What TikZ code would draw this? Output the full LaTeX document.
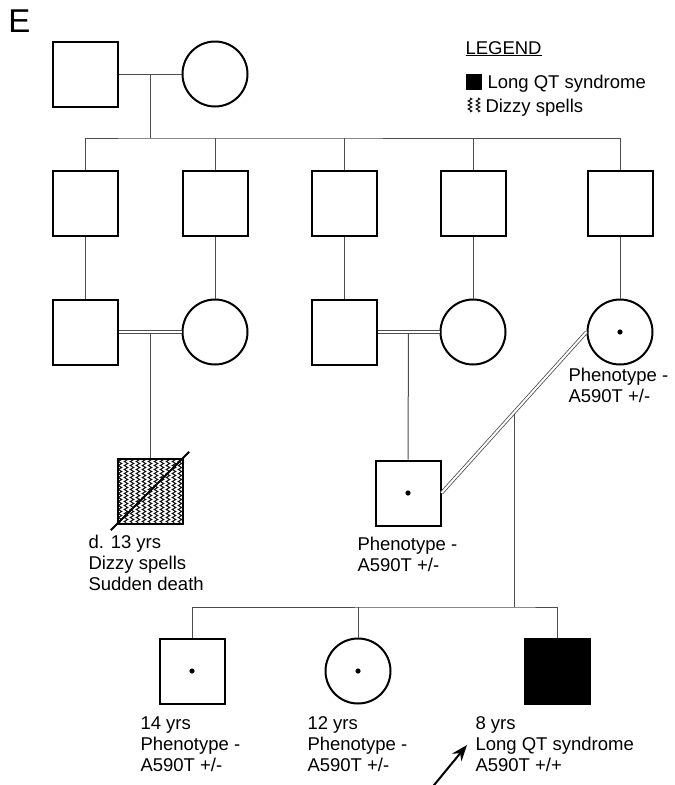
\documentclass[tikz,border=0pt]{standalone}
\usepackage{fontspec}
\setmainfont{Liberation Sans}
\usetikzlibrary{calc,arrows.meta,decorations.pathmorphing}

\begin{document}
\begin{tikzpicture}[x=1pt,y=-1pt,line width=1pt,
	font=\fontsize{18.5}{21}\selectfont,
	male/.style={draw,line width=2pt,minimum size=65pt,inner sep=0pt},
	female/.style={draw,circle,line width=2pt,minimum size=65pt,inner sep=0pt},
	link/.style={draw=black!70,line width=1pt},
	mate/.style={draw=black!70,double=white,double distance=2pt,line width=0.8pt},
	zig/.style={decorate,decoration={zigzag,segment length=4pt,amplitude=1.8pt}},
	dizzy/.style={path picture={\foreach \dx in {-30,-24,...,30}
		\draw[black,line width=0.9pt,zig] ([xshift=\dx pt]path picture bounding box.north) -- ([xshift=\dx pt]path picture bounding box.south);}},
	info/.style={anchor=north west,inner sep=0pt,align=left}]
	\useasboundingbox (0,0) rectangle (675,785);
	\node[anchor=north west,inner sep=0pt,font=\fontsize{33}{36}\selectfont] (panel) at (8,9) {E};
	% generation I
	\node[male] (g1m) at (85,74) {};
	\node[female] (g1f) at (215,74) {};
	% generation II
	\node[male] (g2a) at (85,203) {};
	\node[male] (g2b) at (215,203) {};
	\node[male] (g2c) at (344,203) {};
	\node[male] (g2d) at (473,203) {};
	\node[male] (g2e) at (620,203) {};
	% generation III
	\node[male] (g3a) at (85,332) {};
	\node[female] (g3b) at (215,332) {};
	\node[male] (g3c) at (344,332) {};
	\node[female] (g3d) at (473,332) {};
	\node[female] (g3e) at (620,332) {};
	% generation IV
	\node[male,dizzy] (g4a) at (150,491) {};
	\node[male] (g4b) at (408,493) {};
	% generation V
	\node[male] (g5a) at (192,671) {};
	\node[female] (g5b) at (358,671) {};
	\node[male,fill=black] (g5c) at (557,671) {};
	\fill (g3e.center) circle (2.6);
	\fill (g4b.center) circle (2.6);
	\fill (g5a.center) circle (2.6);
	\fill (g5b.center) circle (2.6);
	\draw[line width=1.8pt,shorten <=-8pt,shorten >=-8pt] (g4a.south west) -- (g4a.north east);
	\coordinate (m1) at ($(g1m.east)!0.5!(g1f.west)$);
	\coordinate (s1) at (150,138);
	\coordinate (m3a) at ($(g3a.east)!0.5!(g3b.west)$);
	\coordinate (m3b) at ($(g3c.east)!0.5!(g3d.west)$);
	\coordinate (m4) at ($(g4b.east)!0.5!(g3e.west)$);
	\coordinate (s5) at (514,607);
	\draw[link] (g1m.east) -- (g1f.west);
	\draw[link] (m1) -- (s1);
	\draw[link] (g2a.north) |- (s1) -| (g2e.north);
	\foreach \n in {g2b,g2c,g2d} \draw[link] (\n.north) -- (\n.north |- s1);
	\foreach \a/\b in {g2a/g3a,g2b/g3b,g2c/g3c,g2d/g3d,g2e/g3e} \draw[link] (\a) -- (\b);
	\draw[link] (m3a) -- (g4a.north);
	\draw[link] (m3b) -- (g4b.north);
	\draw[link] (m4) -- (s5);
	\draw[link] (g5a.north) |- (s5) -| (g5c.north);
	\draw[link] (g5b.north) -- (g5b.north |- s5);
	\draw[mate] (g3a.east) -- (g3b.west);
	\draw[mate] (g3c.east) -- (g3d.west);
	\draw[mate] (g4b.east) -- (g3e.west);
	% labels
	\node[info] (i4a) at (88,535) {d. 13 yrs\\Dizzy spells\\Sudden death};
	\node[info] (i3e) at (568,368) {Phenotype -\\A590T +/-};
	\node[info] (i4b) at (357,537) {Phenotype -\\A590T +/-};
	\node[info] (i5a) at (140,716) {14 yrs\\Phenotype -\\A590T +/-};
	\node[info] (i5b) at (307,716) {12 yrs\\Phenotype -\\A590T +/-};
	\node[info] (i5c) at (475,716) {8 yrs\\Long QT syndrome\\A590T +/+};
	\coordinate (ptail) at (430,790);
	\coordinate (phead) at (467,745);
	\draw[-{Stealth[length=16pt,width=12pt]},line width=2pt] (ptail) -- (phead);
	% legend
	\node[anchor=base west,inner sep=0pt] (legtitle) at (465,54) {\underline{LEGEND}};
	\node[fill=black,minimum size=16pt,inner sep=0pt] (legaff) at (474,82) {};
	\node[anchor=base west,inner sep=0pt] (legafftxt) at (487,88) {Long QT syndrome};
	\coordinate (legdiz) at (474,105);
	\draw[zig,line width=1pt] ($(legdiz)+(-4,-7)$) -- ($(legdiz)+(-4,7)$);
	\draw[zig,line width=1pt] ($(legdiz)+(4,-7)$) -- ($(legdiz)+(4,7)$);
	\node[anchor=base west,inner sep=0pt] (legdiztxt) at (485,112) {Dizzy spells};
\end{tikzpicture}
\end{document}
